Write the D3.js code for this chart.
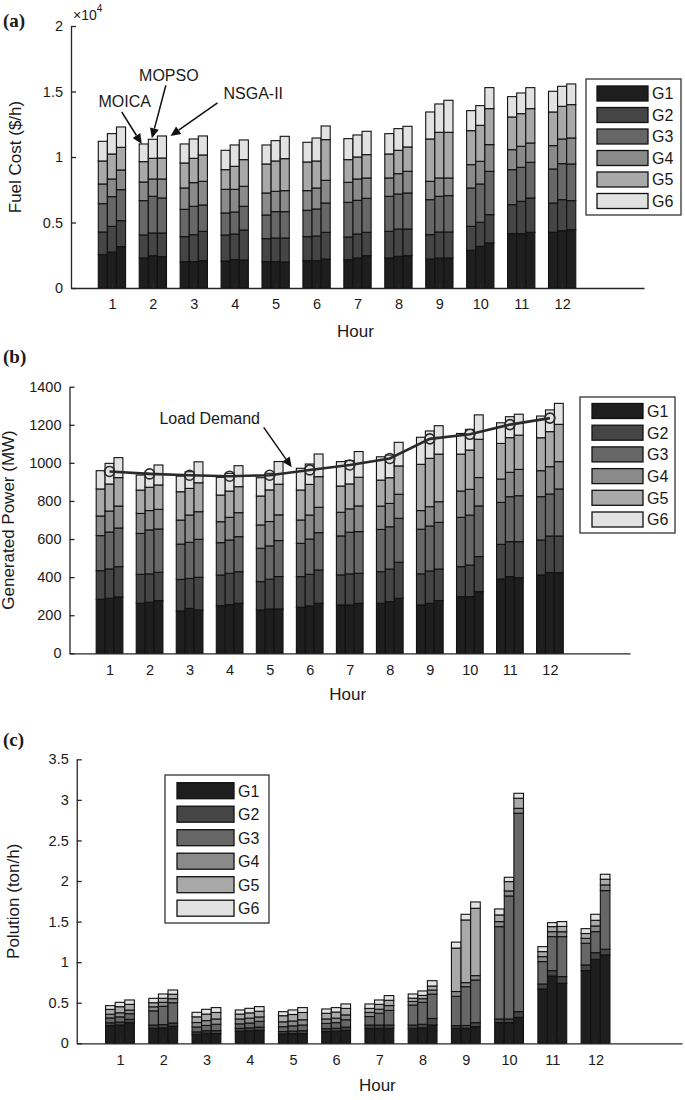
<!DOCTYPE html>
<html><head><meta charset="utf-8">
<script src="https://cdn.jsdelivr.net/npm/d3@7"></script>
<style>
body{margin:0;background:#fff}
svg{display:block}
text{font-family:"Liberation Sans",Arial,sans-serif;fill:#1a1a1a}
</style>
</head><body><svg id="chart" width="685" height="1100"></svg>
<script>
// ---------------- data ----------------
const hours = [1,2,3,4,5,6,7,8,9,10,11,12];
const generators = ["G1","G2","G3","G4","G5","G6"];
const algorithms = ["MOICA","MOPSO","NSGA-II"];
const genColors = ["#1e1e1e","#454545","#676767","#8a8a8a","#a9a9a9","#e2e2e2"];

// (a) Fuel cost ($/h), rows = hours, columns = G1..G6
const fuelMOICA = [
 [2545,1731,2163,1502,1756,1502],[2291,1756,2621,1425,1552,1349],[2011,1909,2087,1629,1909,1451],
 [2061,1985,1680,1807,1502,1476],[2011,1756,1807,1680,2214,1451],[2087,1832,2011,1502,2189,1502],
 [2163,1731,2647,1527,1731,1603],[2291,2036,2672,1400,1832,1552],[2214,1858,2672,1400,3232,2061],
 [2876,1832,2927,1782,2596,1527],[4148,2214,2672,1527,2494,1552],[4250,2240,2596,1782,2570,1578]];
const fuelMOPSO = [
 [2749,1960,2265,1349,1909,1552],[2469,1731,2800,1323,1578,1451],[2011,2061,2163,1807,1858,1476],
 [2163,1960,1680,1731,1756,1629],[2011,1807,2011,1552,2316,1552],[2087,1883,2061,1603,2061,1756],
 [2291,1832,2570,1629,1680,1680],[2418,2087,2672,1552,1782,1654],[2291,1985,2723,1400,3487,2163],
 [3181,1832,2927,1731,2749,1502],[4148,2469,2596,1603,2494,1578],[4377,2367,2749,1883,2494,1527]];
const fuelNSGA = [
 [3156,1985,2367,1502,1731,1552],[2392,1807,2672,1451,1603,1680],[2087,2240,2011,1807,2011,1451],
 [2138,2291,1807,1527,2036,1502],[1985,1832,2011,1603,2443,1705],[2214,2036,2240,1731,3105,1043],
 [2469,1782,2596,1552,1782,1782],[2469,2036,2749,1654,1858,1578],[2291,1985,2774,1349,3487,2443],
 [3436,2163,3309,2036,2749,1603],[4250,2621,2723,1476,2621,1603],[4454,2214,2800,1985,2545,1578]];

// (b) Generated power (MW)
const powerMOICA = [
 [283.5,150.5,184,103,142,96],[262.5,152,215,105,122.5,79],[222,166,185.5,126,149,82],
 [250,161,170,110,140,93],[227.5,149,175,122.5,152,96],[241.5,161,175,122.5,157.5,114],
 [254,157.5,205,124,138,128],[262.5,166,222,122.5,136.5,122.5],[254,163,234.5,98,243,142],
 [297.5,157.5,259,138,194,108.5],[390,182,220.5,122.5,187,108.5],[411,184,227.5,136.5,173,114]];
const powerMOPSO = [
 [289,154,194,110,142,108.5],[268,149,231,101.5,122.5,73.5],[236,157.5,189,143.5,140,87.5],
 [255.5,164.5,175,119,138,93],[233,156,175,128,166,87.5],[248.5,166,185.5,126,161,107],
 [254,163,219,122.5,131,122.5],[271,171.5,222,122.5,135,119],[262.5,170,236,101.5,254,143.5],
 [297.5,166,262.5,135,206.5,108.5],[402.5,184,236,128,182,110],[423.5,192.5,220.5,143.5,184,114]];
const powerNSGA = [
 [296,159,203,115.5,149,105],[276.5,149,227.5,103,128,105],[227.5,171.5,199.5,145,152,110],
 [262.5,166,184,126,136.5,110],[233,170,189,135,161,119],[262.5,175,196,133,161,119],
 [262.5,157.5,219,135,150.5,135],[289,189,231,126,149,124],[276.5,166,245,108.5,250,149],
 [324,184,266,149,201,128],[397,189,241.5,138,180,110],[423.5,192.5,247,143.5,196,110]];
const loadDemand = [955,942,935,930,935,963,989,1023,1126,1150,1201,1235];

// (c) Pollution (ton/h)
const emisMOICA = [
 [0.218,0.035,0.06,0.045,0.06,0.046],[0.185,0.04,0.175,0.05,0.05,0.054],[0.111,0.03,0.06,0.055,0.07,0.056],
 [0.15,0.035,0.055,0.06,0.06,0.051],[0.115,0.03,0.06,0.06,0.075,0.05],[0.145,0.035,0.065,0.055,0.07,0.053],
 [0.185,0.04,0.105,0.05,0.05,0.055],[0.185,0.04,0.246,0.045,0.04,0.052],[0.185,0.033,0.36,0.06,0.535,0.074],
 [0.255,0.045,1.138,0.062,0.082,0.074],[0.67,0.061,0.276,0.061,0.062,0.061],[0.896,0.07,0.267,0.06,0.06,0.06]];
const emisMOPSO = [
 [0.226,0.035,0.065,0.05,0.075,0.054],[0.19,0.04,0.225,0.05,0.05,0.053],[0.125,0.03,0.065,0.06,0.08,0.059],
 [0.155,0.035,0.06,0.06,0.065,0.056],[0.12,0.03,0.065,0.06,0.08,0.056],[0.15,0.035,0.07,0.055,0.075,0.055],
 [0.185,0.04,0.145,0.05,0.06,0.054],[0.19,0.045,0.27,0.045,0.04,0.055],[0.185,0.035,0.478,0.05,0.772,0.07],
 [0.255,0.045,1.516,0.062,0.115,0.053],[0.83,0.066,0.419,0.061,0.062,0.049],[1.035,0.082,0.259,0.07,0.07,0.074]];
const emisNSGA = [
 [0.255,0.04,0.07,0.045,0.07,0.054],[0.21,0.04,0.25,0.05,0.055,0.052],[0.12,0.035,0.08,0.065,0.08,0.06],
 [0.16,0.04,0.07,0.055,0.07,0.057],[0.12,0.035,0.07,0.065,0.09,0.06],[0.16,0.04,0.09,0.06,0.08,0.055],
 [0.185,0.04,0.18,0.06,0.065,0.058],[0.226,0.08,0.3,0.05,0.05,0.066],[0.205,0.05,0.525,0.054,0.83,0.078],
 [0.32,0.07,2.445,0.061,0.124,0.061],[0.74,0.082,0.493,0.06,0.065,0.06],[1.089,0.07,0.723,0.07,0.07,0.061]];

const fuelTicks = [0,5000,10000,15000,20000];
const fuelTickLabels = ["0","0.5","1","1.5","2"];
const powerTicks = [0,200,400,600,800,1000,1200,1400];
const emisTicks = [0,0.5,1,1.5,2,2.5,3,3.5];
const emisTickLabels = ["0","0.5","1","1.5","2","2.5","3","3.5"];

// ---------------- drawing ----------------
const svg = d3.select("#chart");
const groupWidth = 3/4.5;               // MATLAB grouped bar width
const barW = groupWidth/3;
const offsets = [-barW, 0, barW];

function drawPanel(cfg){
  const x = d3.scaleLinear().domain([0,14]).range(cfg.xr);
  const y = d3.scaleLinear().domain(cfg.yd).range(cfg.yr);
  const g = svg.append("g");
  const stack = d3.stack().keys(generators);
  cfg.data.forEach((arr,k)=>{
    const rows = arr.map((r,i)=>{const o={hour:hours[i]}; generators.forEach((gn,j)=>o[gn]=r[j]); return o;});
    const series = stack(rows);
    series.forEach((s,j)=>{
      g.selectAll(null).data(s).enter().append("rect")
        .attr("x", d=>x(d.data.hour+offsets[k]-barW/2))
        .attr("width", d=>x(barW)-x(0))
        .attr("y", d=>y(d[1]))
        .attr("height", d=>y(d[0])-y(d[1]))
        .attr("fill", genColors[j])
        .attr("stroke","#111").attr("stroke-width",1.1);
    });
  });
  // axes
  const xa = g.append("g").attr("transform",`translate(0,${cfg.yr[0]})`)
    .call(d3.axisBottom(x).tickValues(hours).tickFormat(d3.format("d")).tickSizeInner(-5).tickSizeOuter(0).tickPadding(11));
  const ya = g.append("g").attr("transform",`translate(${cfg.xr[0]},0)`)
    .call(d3.axisLeft(y).tickValues(cfg.yTicks).tickFormat((d,i)=>cfg.yLabels[i]).tickSizeInner(-5).tickSizeOuter(0).tickPadding(8));
  [xa,ya].forEach(a=>{
    a.selectAll("path,line").attr("stroke","#262626").attr("stroke-width",1.3);
    a.selectAll("text").attr("font-size",14.5).attr("fill","#1a1a1a").style("font-family","'Liberation Sans',Arial,sans-serif");
  });
  // axis titles
  g.append("text").attr("x",(cfg.xr[0]+cfg.xr[1])/2 - 2).attr("y",cfg.hourY).attr("text-anchor","middle")
    .attr("font-size",17).text("Hour");
  g.append("text").attr("transform",`translate(${cfg.ylabX},${(cfg.yr[0]+cfg.yr[1])/2}) rotate(-90)`)
    .attr("text-anchor","middle").attr("font-size",17).text(cfg.ylab);
  // panel letter
  g.append("text").attr("x",3).attr("y",cfg.letterY).attr("font-size",19).attr("font-weight","bold")
    .style("font-family","'Liberation Serif','Times New Roman',serif").attr("fill","#000").text(cfg.letter);
  // legend
  const L = cfg.legend;
  const lg = g.append("g");
  lg.append("rect").attr("x",L.x).attr("y",L.y).attr("width",L.w).attr("height",L.h)
    .attr("fill","#fff").attr("stroke","#333").attr("stroke-width",1.3);
  generators.forEach((gn,j)=>{
    const cy = L.y0 + j*L.pitch;
    lg.append("rect").attr("x",L.sx).attr("y",cy-L.sh/2).attr("width",L.sw).attr("height",L.sh)
      .attr("fill",genColors[j]).attr("stroke","#111").attr("stroke-width",1.3);
    lg.append("text").attr("x",L.sx+L.sw+4).attr("y",cy+5.8).attr("font-size",16).text(gn);
  });
  return {x,y,g};
}

function arrow(g, x1,y1,x2,y2){
  const ang = Math.atan2(y2-y1,x2-x1), len=10, hw=4.5;
  const bx = x2-len*Math.cos(ang), by = y2-len*Math.sin(ang);
  g.append("line").attr("x1",x1).attr("y1",y1).attr("x2",bx).attr("y2",by).attr("stroke","#111").attr("stroke-width",1.5);
  const p = [[x2,y2],[bx+hw*Math.sin(ang),by-hw*Math.cos(ang)],[bx-hw*Math.sin(ang),by+hw*Math.cos(ang)]];
  g.append("path").attr("d","M"+p.join("L")+"Z").attr("fill","#111");
}

// Panel (a)
const A = drawPanel({
  data:[fuelMOICA,fuelMOPSO,fuelNSGA], xr:[71,644], yd:[0,20000], yr:[288,26],
  yTicks:fuelTicks, yLabels:fuelTickLabels, hourY:337, ylab:"Fuel Cost ($/h)", ylabX:21,
  letter:"(a)", letterY:27,
  legend:{x:586,y:79,w:95,h:136,sx:597,sw:51,sh:15,y0:93.5,pitch:21.5}
});
A.g.append("text").attr("x",73).attr("y",20).attr("font-size",14).text("\u00d710")
  .append("tspan").attr("font-size",10).attr("dy",-8).text("4");
{
  const tot = arr => d3.sum(arr[1]);
  const tipA = [A.x(2+offsets[0])-2, A.y(tot(fuelMOICA))];
  const tipB = [A.x(2+offsets[1])-1, A.y(tot(fuelMOPSO))-1];
  const tipC = [A.x(2+offsets[2]+barW/2)+4, A.y(tot(fuelNSGA))];
  arrow(A.g, tipA[0]-20, tipA[1]-32, tipA[0], tipA[1]);
  arrow(A.g, tipB[0]+14, tipB[1]-53, tipB[0], tipB[1]);
  arrow(A.g, tipC[0]+47, tipC[1]-33, tipC[0], tipC[1]);
  A.g.append("text").attr("x",tipA[0]-17).attr("y",tipA[1]-37).attr("text-anchor","middle").attr("font-size",16).text("MOICA");
  A.g.append("text").attr("x",tipB[0]+17).attr("y",tipB[1]-57).attr("text-anchor","middle").attr("font-size",16).text("MOPSO");
  A.g.append("text").attr("x",tipC[0]+53).attr("y",tipC[1]-37).attr("text-anchor","start").attr("font-size",16).text("NSGA-II");
}

// Panel (b)
const B = drawPanel({
  data:[powerMOICA,powerMOPSO,powerNSGA], xr:[69.5,630], yd:[0,1400], yr:[653.3,386.7],
  yTicks:powerTicks, yLabels:powerTicks.map(String), hourY:700, ylab:"Generated Power (MW)", ylabX:14,
  letter:"(b)", letterY:363,
  legend:{x:580,y:397,w:95,h:136,sx:592,sw:51,sh:15,y0:411,pitch:21.7}
});
B.g.append("path").datum(loadDemand)
  .attr("d", d3.line().x((d,i)=>B.x(hours[i])).y(d=>B.y(d)))
  .attr("fill","none").attr("stroke","#2a2a2a").attr("stroke-width",2.6);
B.g.selectAll(null).data(loadDemand).enter().append("circle")
  .attr("cx",(d,i)=>B.x(hours[i])).attr("cy",d=>B.y(d)).attr("r",5)
  .attr("fill","none").attr("stroke","#2a2a2a").attr("stroke-width",1.6);
{
  const tx = B.x(5.55), ty = B.y(loadDemand[4] + 0.55*(loadDemand[5]-loadDemand[4])) - 5;
  arrow(B.g, tx-28, ty-40, tx, ty);
  B.g.append("text").attr("x",tx-82).attr("y",ty-43).attr("text-anchor","middle").attr("font-size",16).text("Load Demand");
}

// Panel (c)
const C = drawPanel({
  data:[emisMOICA,emisMOPSO,emisNSGA], xr:[76.75,682], yd:[0,3.5], yr:[1043.3,759.3],
  yTicks:emisTicks, yLabels:emisTickLabels, hourY:1091, ylab:"Polution (ton/h)", ylabX:19,
  letter:"(c)", letterY:746,
  legend:{x:165,y:775,w:104,h:148,sx:177,sw:57,sh:16,y0:790.7,pitch:23.5}
});
</script></body></html>
